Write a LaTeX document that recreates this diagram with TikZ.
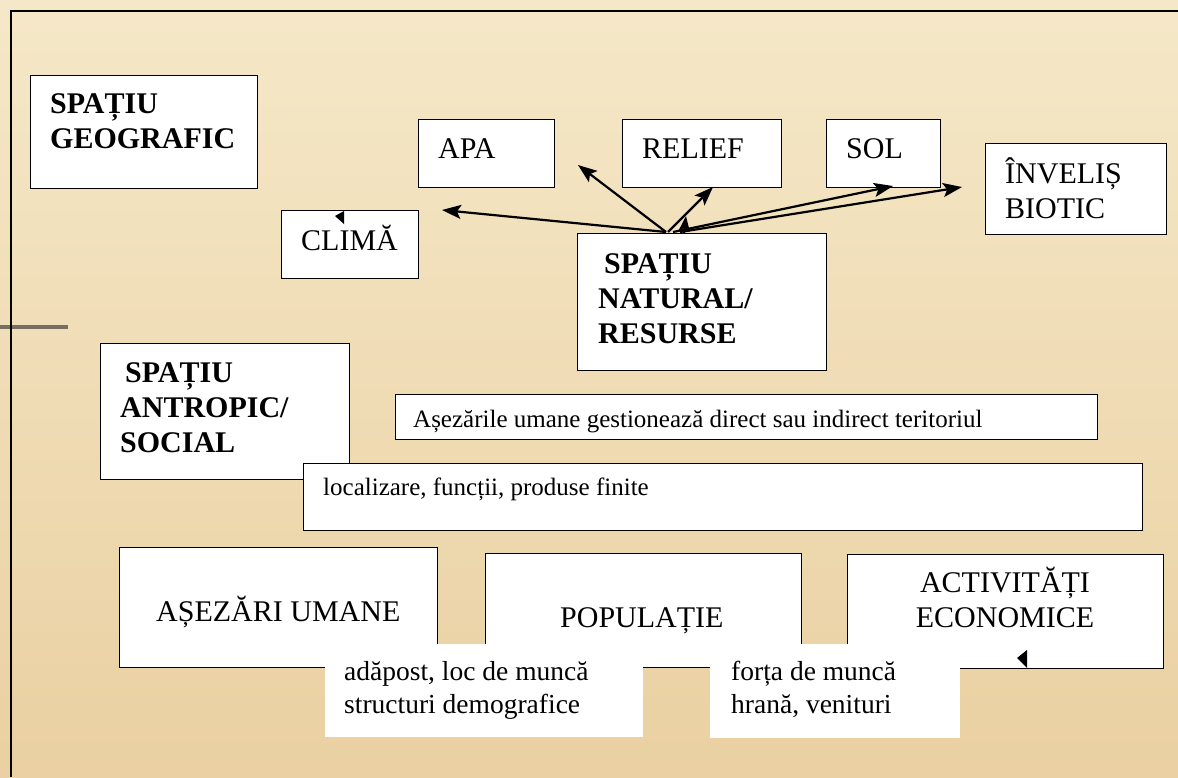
\documentclass[tikz,border=0pt]{standalone}
\usepackage{fontspec}
\setmainfont{Liberation Serif}
\usetikzlibrary{arrows.meta}
\definecolor{bgtop}{RGB}{245,232,200}
\definecolor{bgbot}{RGB}{234,208,162}
\definecolor{penc}{RGB}{120,110,100}
\begin{document}
\begin{tikzpicture}[x=1pt,y=-1pt,
  box/.style={draw=black,line width=1.3pt,fill=white,anchor=north west,inner sep=0pt},
  plainbox/.style={fill=white,anchor=north west,inner sep=0pt},
  lbl/.style={anchor=base west,inner sep=0pt,font=\fontsize{30}{35}\selectfont},
  blbl/.style={anchor=base west,inner sep=0pt,font=\fontsize{30}{35}\selectfont\bfseries},
  slbl/.style={anchor=base west,inner sep=0pt,font=\fontsize{25}{30}\selectfont},
  mlbl/.style={anchor=base west,inner sep=0pt,font=\fontsize{27.5}{33}\selectfont},
  arr/.style={line width=2.2pt,-{Stealth[length=19pt,width=14pt,inset=4pt]}},
  smallarr/.style={line width=2.2pt,-{Stealth[length=15pt,width=11pt,inset=3pt]}},
  tipfill/.style={fill=black}
]
\useasboundingbox (0,0) rectangle (1178,777);
\shade[top color=bgtop,bottom color=bgbot] (0,0) rectangle (1178,777);
% pen decoration on the left
\draw[line width=4pt,penc] (0,327) -- (68,327);
% frame
\draw[line width=1.5pt] (11,777) -- (11,11) -- (1178,11);

% boxes
\node[box,minimum width=227pt,minimum height=113pt] (geo) at (30,75) {};
\node[box,minimum width=136pt,minimum height=68pt] (apa) at (418,119) {};
\node[box,minimum width=159pt,minimum height=68pt] (relief) at (622,119) {};
\node[box,minimum width=114pt,minimum height=68pt] (sol) at (826,119) {};
\node[box,minimum width=181pt,minimum height=91pt] (inv) at (985,143) {};
\node[box,minimum width=137pt,minimum height=68pt] (clima) at (281,210) {};
\node[box,minimum width=249pt,minimum height=137pt] (nat) at (577,233) {};
\node[box,minimum width=249pt,minimum height=136pt] (antr) at (100,343) {};
\node[box,minimum width=702pt,minimum height=45pt] (gest) at (395,394) {};
\node[box,minimum width=839pt,minimum height=67pt] (loc) at (303,463) {};
\node[box,minimum width=318pt,minimum height=120pt] (asez) at (119,547) {};
\node[box,minimum width=316pt,minimum height=114pt] (pop) at (485,553) {};
\node[box,minimum width=316pt,minimum height=114pt] (act) at (847,554) {};
\node[plainbox,minimum width=318pt,minimum height=93pt] (adap) at (325,644) {};
\node[plainbox,minimum width=250pt,minimum height=94pt] (forta) at (710,644) {};

% texts
\node[blbl] (geo1) at (50,113) {SPAȚIU};
\node[blbl] (geo2) at (50,148) {GEOGRAFIC};
\node[lbl] (apaT) at (438,158) {APA};
\node[lbl] (reliefT) at (642,158) {RELIEF};
\node[lbl] (solT) at (846,158) {SOL};
\node[lbl] (inv1) at (1005,183) {ÎNVELIȘ};
\node[lbl] (inv2) at (1005,218) {BIOTIC};
\node[lbl] (climaT) at (301,250) {CLIMĂ};
\node[blbl] (nat1) at (604,273) {SPAȚIU};
\node[blbl] (nat2) at (598,308) {NATURAL/};
\node[blbl] (nat3) at (598,343) {RESURSE};
\node[blbl] (antr1) at (125,382) {SPAȚIU};
\node[blbl] (antr2) at (120,417) {ANTROPIC/};
\node[blbl] (antr3) at (120,452) {SOCIAL};
\node[slbl] (gestT) at (413,427) {Așezările umane gestionează direct sau indirect teritoriul};
\node[slbl] (locT) at (323,495) {localizare, funcții, produse finite};
\node[lbl] (asezT) at (156,621) {AȘEZĂRI UMANE};
\node[lbl] (popT) at (560,627) {POPULAȚIE};
\node[lbl,anchor=base] (act1) at (1005,592) {ACTIVITĂȚI};
\node[lbl,anchor=base] (act2) at (1005,627) {ECONOMICE};
\node[mlbl] (adap1) at (344,680) {adăpost, loc de muncă};
\node[mlbl] (adap2) at (344,713) {structuri demografice};
\node[mlbl] (forta1) at (731,680) {forța de muncă};
\node[mlbl] (forta2) at (731,713) {hrană, venituri};

% arrows from SPATIU NATURAL
\coordinate (a0) at (666,232);
\coordinate (a1) at (668,232);
\coordinate (a2) at (673,232);
\coordinate (a3) at (680,232);
\coordinate (a4) at (684,233);
\coordinate (tClima) at (442,210);
\coordinate (tApa) at (578,165);
\coordinate (tRelief) at (713,187);
\coordinate (tSol) at (893,186);
\coordinate (tInv) at (962,187);
\coordinate (tSmall) at (686,216);
\draw[arr] (a0) -- (tClima);
\draw[arr] (a0) -- (tApa);
\draw[arr] (a1) -- (tRelief);
\draw[arr] (a2) -- (tSol);
\draw[arr] (a3) -- (tInv);
\draw[smallarr] (a4) -- (tSmall);

% stray arrowheads
\fill[tipfill] (344,211) -- (335,216) -- (344,224) -- cycle;
\fill[tipfill] (1027,650) -- (1017,658) -- (1027,668) -- cycle;
\end{tikzpicture}
\end{document}
